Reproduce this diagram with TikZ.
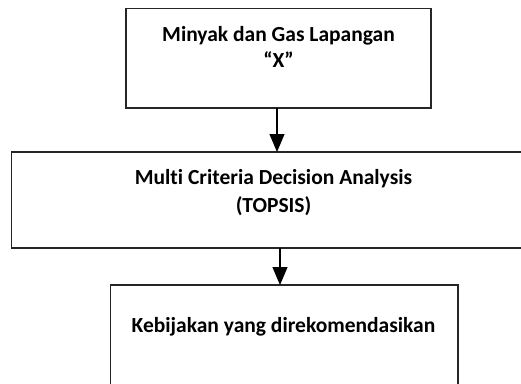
\documentclass[tikz,border=0pt]{standalone}
\usepackage{fontspec}
\setmainfont[Ligatures={NoCommon}]{Carlito}
\usetikzlibrary{arrows.meta}
\begin{document}
\begin{tikzpicture}[x=1pt,y=-1pt,
  boxst/.style={draw=black!85,line width=1.2pt},
  lbl/.style={anchor=base,inner sep=0pt,font=\fontsize{21.5}{26}\selectfont\bfseries},
  arr/.style={line width=1.2pt,-{Triangle[width=15pt,length=18pt]}}]
\useasboundingbox (0,0) rectangle (521,383);
\begin{scope}
\clip (0,0) rectangle (521,383);
\draw[boxst] (126,8.7) rectangle (431,108);
\draw[boxst] (11.5,152) rectangle (530,248);
\draw[boxst] (110.5,285) rectangle (458,395);
\end{scope}
\coordinate (b1) at (277,108);
\coordinate (t2) at (277,152);
\coordinate (b2) at (280,248);
\coordinate (t3) at (280,285);
\node[lbl] (l1) at (278.5,41.7) {Minyak dan Gas Lapangan};
\node[lbl] (l2) at (278.5,67.7) {“X”};
\node[lbl] (l3) at (273.5,184) {Multi Criteria Decision Analysis};
\node[lbl] (l4) at (273.5,212) {(TOPSIS)};
\node[lbl] (l5) at (283.5,332) {Kebijakan yang direkomendasikan};
\draw[arr] (b1) -- (t2);
\draw[arr] (b2) -- (t3);
\end{tikzpicture}
\end{document}
